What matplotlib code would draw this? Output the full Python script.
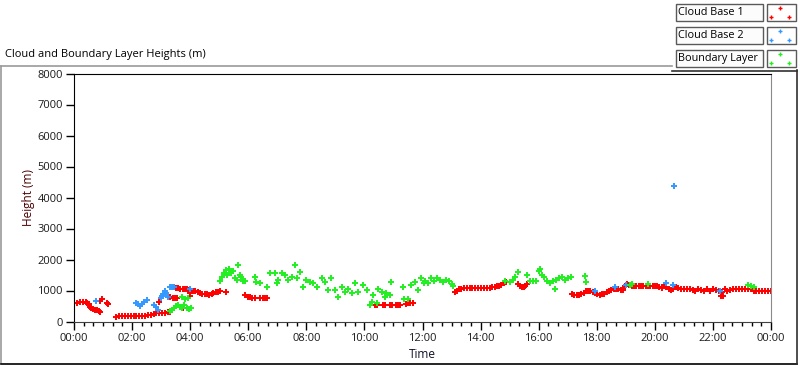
import matplotlib
matplotlib.use('Agg')
import matplotlib.pyplot as plt
import numpy as np
from matplotlib.patches import Rectangle
from matplotlib.lines import Line2D

plt.rcParams['font.family'] = ['Open Sans', 'DejaVu Sans']

# Cloud Base 1 (red): time in hours, height in m
red_t = [0.00, 0.10, 0.20, 0.30, 0.40, 0.46,
         0.50, 0.55, 0.60, 0.67, 0.74, 0.80, 0.86, 0.90,
         0.90, 0.97, 1.15, 1.18,
         1.45, 1.55, 1.65, 1.75, 1.85, 1.95, 2.05, 2.15, 2.25, 2.35, 2.45, 2.55, 2.65, 2.75,
         2.82, 2.92, 3.02, 3.12, 3.22, 3.30, 2.94,
         3.32, 3.40, 3.48, 3.55,
         3.50, 3.58, 3.66, 3.74, 3.82, 3.90, 3.96,
         3.74, 3.98, 4.00,
         4.02, 4.10, 4.18, 4.26, 4.34, 4.42, 4.50, 4.58, 4.66, 4.74,
         4.80, 4.88, 4.96, 5.02, 5.23,
         5.90, 5.98, 6.06, 6.14, 6.22, 6.42, 6.50, 6.58, 6.65,
         10.36, 10.44, 10.64, 10.72, 10.88, 10.96, 11.08, 11.16, 11.24,
         11.42, 11.50, 11.58, 11.66,
         13.12, 13.18, 13.24, 13.32, 13.42, 13.52, 13.62, 13.72, 13.82, 13.92, 14.02, 14.12, 14.22, 14.32,
         14.40, 14.48, 14.56, 14.64, 14.72, 14.80, 14.86,
         15.30, 15.36, 15.42, 15.48, 15.54, 15.60,
         17.15, 17.23, 17.31, 17.39, 17.47, 17.55,
         17.62, 17.70, 17.78, 17.86, 17.94, 18.02, 18.10, 18.18, 18.26,
         18.34, 18.42, 18.50, 18.58, 18.66, 18.74, 18.82, 18.90,
         18.96, 19.04, 19.12, 19.20, 19.28, 19.36, 19.44, 19.52, 19.60, 19.68, 19.76, 19.84, 19.92, 20.00, 20.08,
         20.16, 20.24, 20.32, 20.40, 20.48, 20.56, 20.64, 20.72,
         20.8, 20.9, 21.0, 21.1, 21.2, 21.3, 21.4, 21.5, 21.6, 21.7, 21.8, 21.9, 22.0, 22.1, 22.2,
         22.3, 22.4, 22.5, 22.6, 22.7, 22.8, 22.9, 23.0, 23.1, 23.2, 23.3, 23.4, 23.5, 23.6, 23.7,
         23.8, 23.9, 24.0, 22.28, 22.34]
red_h = [600, 605, 615, 620, 615, 600,
         560, 470, 420, 390, 370, 360, 330, 300,
         670, 720, 600, 550,
         160, 175, 170, 165, 170, 170, 175, 165, 180, 185, 190, 210, 220, 230,
         270, 280, 285, 290, 300, 310, 640,
         790, 770, 765, 760,
         1080, 1070, 1060, 1060, 1050, 1040, 1030,
         430, 820, 930,
         1000, 990, 980, 960, 930, 900, 880, 890, 870, 880,
         930, 950, 965, 970, 940,
         840, 800, 780, 770, 770, 750, 750, 750, 750,
         525, 525, 525, 525, 520, 525, 525, 525, 530,
         570, 590, 600, 600,
         960, 1000, 1040, 1060, 1070, 1075, 1075, 1075, 1075, 1075, 1075, 1075, 1080, 1080,
         1100, 1110, 1130, 1150, 1180, 1230, 1290,
         1220, 1130, 1100, 1110, 1150, 1220,
         900, 870, 860, 860, 880, 910,
         990, 980, 970, 960, 920, 880, 870, 880, 900,
         960, 980, 1010, 1040, 1060, 1050, 1020, 1010,
         1150, 1200, 1170, 1150, 1150, 1150, 1150, 1150, 1150, 1150, 1140, 1150, 1160, 1150, 1130,
         1100, 1070, 1180, 1100, 1050, 1020, 1060, 1100,
         1080, 1060, 1050, 1050, 1060, 1020, 1000, 1050, 1030, 990, 1050, 1000, 1060, 1010, 1000,
         960, 1050, 990, 1030, 1040, 1040, 1040, 1050, 1040, 1060, 1040, 1000, 1000, 990, 1000,
         990, 1000, 990, 820, 830]

# Cloud Base 2 (blue)
blue_t = [0.76, 2.15, 2.20, 2.27, 2.34, 2.42, 2.50, 2.75, 2.82, 2.90,
          2.98, 3.02, 3.06, 3.12, 3.18, 3.22, 3.30, 3.38, 3.46, 3.99,
          17.94, 18.63, 19.00, 20.40, 20.63, 20.67, 22.26]
blue_h = [650, 610, 560, 510, 560, 620, 690, 520, 470, 380,
          750, 820, 900, 980, 920, 780, 1100, 1110, 1100, 1050,
          1000, 1110, 1180, 1240, 1190, 4380, 1000]

# Boundary Layer (green)
green_t = [3.30, 3.38, 3.45, 3.52, 3.58, 3.65, 3.72, 3.80, 3.88, 3.95, 4.02, 3.72, 3.82, 3.92,
           5.02, 5.08, 5.15, 5.22, 5.28, 5.35, 5.42, 5.48, 5.55, 5.60, 5.65, 5.70, 5.75, 5.82, 5.88,
           6.23, 6.27, 6.40, 6.64, 6.75, 6.92, 6.98, 7.03, 7.15, 7.27, 7.38, 7.50, 7.61, 7.67,
           7.78, 7.90, 8.00, 8.13, 8.24, 8.36, 8.53, 8.64, 8.76, 8.85, 8.99, 9.10, 9.22, 9.33,
           9.45, 9.56, 9.68, 9.79, 9.96, 10.08, 10.20, 10.25, 10.30, 10.42, 10.48, 10.59, 10.70,
           10.76, 10.87, 10.93, 11.33, 11.38, 11.50, 11.61, 11.73, 11.84, 11.96, 12.05,
           12.10, 12.20, 12.30, 12.40, 12.50, 12.60, 12.70, 12.80, 12.90, 13.00, 13.05,
           14.85, 15.00, 15.10, 15.20, 15.30, 15.60, 15.70, 15.80, 15.90,
           16.00, 16.05, 16.10, 16.20, 16.30, 16.40, 16.50, 16.55, 16.60, 16.70, 16.80, 16.90,
           17.00, 17.10, 17.60, 17.62, 19.15, 19.20, 19.77, 23.20, 23.30, 23.40]
green_h = [330, 380, 440, 500, 530, 480, 450, 520, 430, 410, 420, 780, 720, 760,
           1300, 1420, 1580, 1650, 1500, 1700, 1560, 1620, 1400, 1350, 1820, 1500, 1420, 1300, 1300,
           1450, 1290, 1230, 1120, 1550, 1550, 1230, 1330, 1550, 1500, 1330, 1440, 1810, 1390,
           1600, 1120, 1330, 1280, 1230, 1120, 1390, 1280, 1010, 1390, 1010, 800, 1120, 960,
           1060, 910, 1230, 960, 1180, 1010, 530, 640, 850, 590, 1060, 960, 800,
           910, 850, 1260, 1120, 720, 720, 1170, 1280, 1030, 1390, 1230,
           1310, 1230, 1400, 1300, 1400, 1330, 1280, 1330, 1310, 1200, 1150,
           1300, 1280, 1350, 1420, 1610, 1500, 1300, 1320, 1300,
           1620, 1700, 1500, 1450, 1300, 1250, 1300, 1050, 1350, 1400, 1450, 1350,
           1400, 1440, 1470, 1290, 1180, 1200, 1200, 1190, 1160, 1120]

x_labels = ['00:00', '02:00', '04:00', '06:00', '08:00', '10:00', '12:00',
            '14:00', '16:00', '18:00', '20:00', '22:00', '00:00']
series = [('Cloud Base 1', '#ff0000'), ('Cloud Base 2', '#3399ff'), ('Boundary Layer', '#22ee22')]

W, H = 800, 365
fig = plt.figure(figsize=(8, 3.65), dpi=100)

def fx(x):
    return x / W

def fy(y):
    return 1 - y / H

ax = fig.add_axes([fx(74), fy(321.5), fx(771) - fx(74), fy(73.5) - fy(321.5)])

mk = dict(ls='none', marker='+', ms=4, mew=1.4)
ax.plot(red_t, red_h, color=series[0][1], **mk)
ax.plot(blue_t, blue_h, color=series[1][1], **mk)
ax.plot(green_t, green_h, color=series[2][1], **mk)

ax.set_xlim(0, 24)
ax.set_ylim(0, 8000)
ax.set_xticks(range(0, 25, 2))
ax.set_xticklabels(x_labels)
ax.set_xticks(np.arange(0, 24.01, 1 / 3), minor=True)
ax.set_yticks(range(0, 8001, 1000))
ax.tick_params(axis='both', direction='out', length=6, width=1, labelsize=8,
               pad=2, colors='black', labelcolor='#1a1a1a')
ax.tick_params(axis='x', which='minor', length=3, width=1)
for side in ['left', 'top']:
    ax.spines[side].set_color('black')
ax.spines['bottom'].set_color('#404040')
ax.spines['right'].set_color('#8a8a8a')

ax.set_xlabel('Time', fontsize=8.5, color='#101028', labelpad=3)
ax.set_ylabel('Height (m)', fontsize=8.5, color='#4a0000', labelpad=2)

# Title
fig.text(fx(5), fy(54), 'Cloud and Boundary Layer Heights (m)', fontsize=8,
         va='center', ha='left', color='black')

# Outer frame
fig.add_artist(Line2D([fx(1), fx(1)], [fy(66), fy(363)], color='#9a9a9a', lw=1.2))
fig.add_artist(Line2D([fx(1), fx(672)], [fy(66), fy(66)], color='#9a9a9a', lw=1.2))
fig.add_artist(Line2D([fx(1), fx(797)], [fy(363.5), fy(363.5)], color='black', lw=1.2))
fig.add_artist(Line2D([fx(797), fx(797)], [fy(70), fy(363.5)], color='#303030', lw=1.2))
fig.add_artist(Line2D([fx(672), fx(797)], [fy(71), fy(71)], color='#303030', lw=1.2))

# Legend
for i, (label, color) in enumerate(series):
    y0 = 4 + 23 * i
    fig.add_artist(Rectangle((fx(676), fy(y0 + 17)), fx(763) - fx(676), fy(y0) - fy(y0 + 17),
                             facecolor='#fcfcfc', edgecolor='#5a5a5a', lw=1))
    fig.add_artist(Rectangle((fx(767), fy(y0 + 17)), fx(796) - fx(767), fy(y0) - fy(y0 + 17),
                             facecolor='white', edgecolor='#5a5a5a', lw=1))
    fig.text(fx(678.5), fy(y0 + 8.5), label, fontsize=7.8, va='center', ha='left', color='black')
    for px, py in [(779.5, y0 + 4), (771, y0 + 13), (789, y0 + 13)]:
        fig.add_artist(Line2D([fx(px)], [fy(py)], marker='+', ms=2.8, mew=1.0, color=color))

fig.savefig('out.png', dpi=100)
